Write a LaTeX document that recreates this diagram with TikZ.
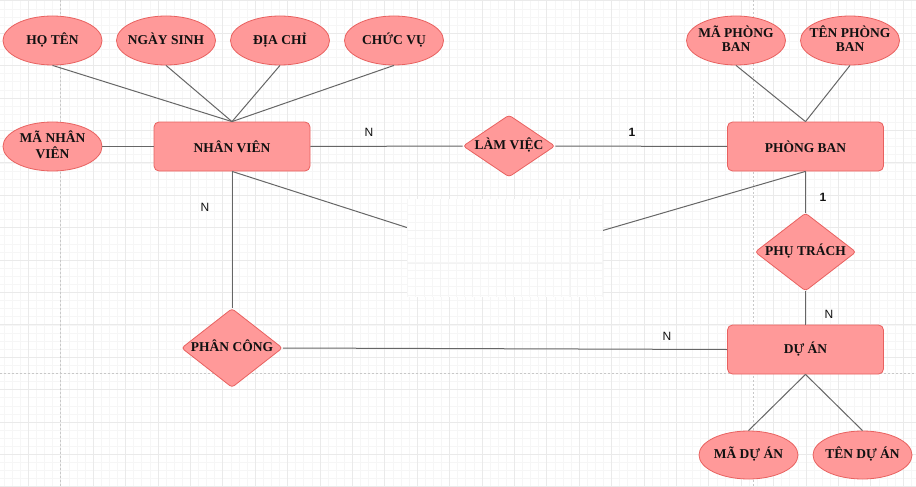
\documentclass[tikz,border=0pt]{standalone}
\usepackage{fontspec}
\setmainfont{Liberation Serif}
\newfontfamily\labfont{Liberation Sans}
\usetikzlibrary{shapes.geometric}
\definecolor{pfill}{HTML}{FF9999}
\definecolor{pdraw}{HTML}{E8615F}
\definecolor{gmin}{HTML}{F6F6F6}
\definecolor{gmaj}{HTML}{EAEAEA}
\definecolor{pgbrk}{HTML}{C8C8C8}
\definecolor{edgec}{HTML}{666666}
\definecolor{txt}{HTML}{111111}
\newcommand{\zw}[1]{\makebox[0pt]{\begin{tabular}{@{}c@{}}#1\end{tabular}}}
\begin{document}
\begin{tikzpicture}[x=1pt,y=-1pt,
  shapefont/.style={font=\fontsize{13.5}{14}\selectfont\bfseries, text=txt},
  attr/.style={ellipse, draw=pdraw, fill=pfill, line width=0.8pt, minimum width=99pt, minimum height=49pt, inner sep=0pt, shapefont},
  ent/.style={rectangle, rounded corners=5pt, draw=pdraw, fill=pfill, line width=0.8pt, minimum width=156pt, minimum height=49pt, inner sep=0pt, shapefont},
  rel/.style={diamond, rounded corners=3pt, draw=pdraw, fill=pfill, line width=0.8pt, inner sep=0pt, shapefont},
  conn/.style={draw=edgec, line width=1pt},
  card/.style={font=\labfont\fontsize{12}{12}\selectfont, text=txt, inner sep=0pt},
  cardb/.style={card, font=\labfont\fontsize{12}{12}\selectfont\bfseries}
]
\useasboundingbox (0,0) rectangle (916,487);
\fill[white] (0,0) rectangle (916,487);
% grid
\foreach \i in {0,...,112} \draw[gmin, line width=0.6pt] ({4+8.1*\i},0) -- ({4+8.1*\i},487);
\foreach \i in {0,...,60} \draw[gmin, line width=0.6pt] (0,{0.8+8.1*\i}) -- (916,{0.8+8.1*\i});
\foreach \j in {0,...,27} \draw[gmaj, line width=0.7pt] ({28.3+32.4*\j},0) -- ({28.3+32.4*\j},487);
\foreach \j in {0,...,15} \draw[gmaj, line width=0.7pt] (0,{0.8+32.4*\j}) -- (916,{0.8+32.4*\j});
% page breaks
\draw[pgbrk, line width=0.8pt, dash pattern=on 2pt off 2pt] (60,0) -- (60,487);
\draw[pgbrk, line width=0.8pt, dash pattern=on 2pt off 2pt] (753,0) -- (753,487);
\draw[pgbrk, line width=0.8pt, dash pattern=on 2pt off 2pt] (0,373) -- (916,373);

% nodes
\node[attr] (ht) at (52.5,40.5) {\zw{HỌ TÊN}};
\node[attr] (ns) at (166,40.5) {\zw{NGÀY SINH}};
\node[attr] (dc) at (280,40.5) {\zw{ĐỊA CHỈ}};
\node[attr] (cv) at (394,40.5) {\zw{CHỨC VỤ}};
\node[attr] (mnv) at (52.5,146.5) {\zw{MÃ NHÂN\\VIÊN}};
\node[ent] (nv) at (232,146.5) {NHÂN VIÊN};
\node[rel, minimum width=92pt, minimum height=62pt] (lv) at (509,146) {\zw{LÀM VIỆC}};
\node[ent] (pb) at (805.5,146.5) {PHÒNG BAN};
\node[attr] (mpb) at (736,40.5) {\zw{MÃ PHÒNG\\BAN}};
\node[attr] (tpb) at (850,40.5) {\zw{TÊN PHÒNG\\BAN}};
\node[rel, minimum width=101pt, minimum height=78pt] (pt) at (805.5,252) {\zw{PHỤ TRÁCH}};
\node[ent] (da) at (805.5,349.5) {DỰ ÁN};
\node[attr, minimum height=48pt] (mda) at (748.5,455) {\zw{MÃ DỰ ÁN}};
\node[attr, minimum height=48pt] (tda) at (862.5,455) {\zw{TÊN DỰ ÁN}};
\node[rel, minimum width=101pt, minimum height=79pt] (pc) at (232,348) {\zw{PHÂN CÔNG}};
\coordinate (hid) at (505,259);

% connectors
\begin{scope}[on background layer/.style={}]
\end{scope}
\draw[conn] (ht.south) -- (nv.north);
\draw[conn] (ns.south) -- (nv.north);
\draw[conn] (dc.south) -- (nv.north);
\draw[conn] (cv.south) -- (nv.north);
\draw[conn] (mnv.east) -- (nv.west);
\draw[conn] (nv.east) -- (lv.west);
\draw[conn] (lv.east) -- (pb.west);
\draw[conn] (mpb.south) -- (pb.north);
\draw[conn] (tpb.south) -- (pb.north);
\draw[conn] (pb.south) -- (pt.north);
\draw[conn] (pt.south) -- (da.north);
\draw[conn] (da.south) -- (mda.north);
\draw[conn] (da.south) -- (tda.north);
\draw[conn] (nv.south) -- (pc.north);
\draw[conn] (pc.east) -- (da.west);
\draw[conn] (nv.south) -- (hid);
\draw[conn] (hid) -- (pb.south);

% white patch
\fill[white] (407,199) rectangle (603,297);
\begin{scope}
\clip (407,199) rectangle (603,297);
\foreach \i in {0,...,24} \draw[gmin, line width=0.5pt] ({407.6+8.1*\i},199) -- ({407.6+8.1*\i},297);
\foreach \i in {0,...,12} \draw[gmin, line width=0.5pt] (407,{197.6+8.1*\i}) -- (603,{197.6+8.1*\i});
\foreach \x in {440,472.5,505,537.5,570} \draw[gmin!70!gmaj, line width=0.7pt] (\x,199) -- (\x,297);
\foreach \y in {230,263} \draw[gmin!70!gmaj, line width=0.7pt] (407,\y) -- (603,\y);
\end{scope}

% redraw shapes above lines (nodes already drawn before connectors)
% cardinalities
\node[card] (c1) at (369,132) {N};
\node[cardb] (c2) at (632,132) {1};
\node[card] (c3) at (205,207) {N};
\node[cardb] (c4) at (823,197) {1};
\node[card] (c5) at (829,314) {N};
\node[card] (c6) at (667,336) {N};
\end{tikzpicture}
\end{document}
